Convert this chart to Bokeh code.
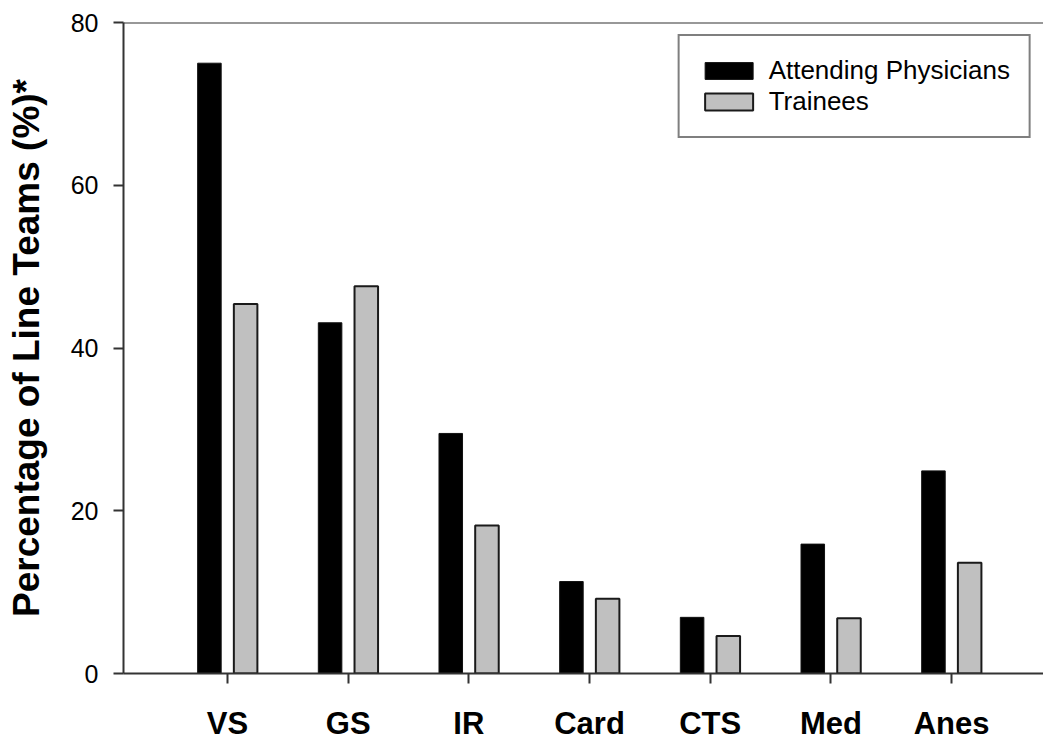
from bokeh.plotting import figure
from bokeh.models import ColumnDataSource, Range1d, FixedTicker, Span, Legend, LegendItem
from bokeh.transform import dodge
from bokeh.embed import file_html
from bokeh.resources import INLINE

categories = ["VS", "GS", "IR", "Card", "CTS", "Med", "Anes"]
attending = [75.0, 43.1, 29.5, 11.3, 6.9, 15.9, 24.9]
trainees = [45.4, 47.6, 18.2, 9.2, 4.6, 6.8, 13.6]
y_ticks = [0, 20, 40, 60, 80]

idx = list(range(len(categories)))
source = ColumnDataSource(data=dict(x=idx, cat=categories, attending=attending, trainees=trainees))

p = figure(width=1043, height=749, output_backend="svg", toolbar_location=None,
           x_range=Range1d(-0.862, len(categories) - 0.238), y_range=Range1d(0, 80),
           min_border_left=123, min_border_right=0, min_border_top=22, min_border_bottom=76)
p.outline_line_color = None
p.grid.visible = False
p.background_fill_color = "white"
p.border_fill_color = "white"

r1 = p.vbar(x=dodge("x", -0.15, range=p.x_range), top="attending", width=0.195, source=source,
            fill_color="black", line_color="#111111", line_width=1)
r2 = p.vbar(x=dodge("x", 0.15, range=p.x_range), top="trainees", width=0.195, source=source,
            fill_color="#c0c0c0", line_color="#1a1a1a", line_width=2)

# top frame line
p.add_layout(Span(location=80, dimension="width", line_color="#333333", line_width=2))

# x axis
xa = p.xaxis[0]
xa.ticker = FixedTicker(ticks=idx)
xa.major_label_overrides = {i: c for i, c in zip(idx, categories)}
xa.major_label_text_font = "Liberation Sans"
xa.major_label_text_font_style = "bold"
xa.major_label_text_font_size = "31px"
xa.major_label_text_color = "black"
xa.major_label_standoff = 22
xa.axis_line_color = "#333333"
xa.axis_line_width = 2
xa.major_tick_line_color = "#333333"
xa.major_tick_line_width = 2
xa.major_tick_in = 0
xa.major_tick_out = 10
xa.minor_tick_line_color = None

# y axis
ya = p.yaxis[0]
ya.ticker = FixedTicker(ticks=y_ticks)
ya.major_label_text_font = "Liberation Sans"
ya.major_label_text_font_size = "25px"
ya.major_label_text_color = "black"
ya.major_label_standoff = 15
ya.axis_line_color = "#333333"
ya.axis_line_width = 2
ya.major_tick_line_color = "#333333"
ya.major_tick_line_width = 2
ya.major_tick_in = 0
ya.major_tick_out = 10
ya.minor_tick_line_color = None
ya.axis_label = "Percentage of Line Teams (%)*"
ya.axis_label_text_font = "Liberation Sans"
ya.axis_label_text_font_style = "bold"
ya.axis_label_text_font_size = "37px"
ya.axis_label_text_color = "black"
ya.axis_label_standoff = 21

legend = Legend(items=[LegendItem(label="Attending Physicians", renderers=[r1]),
                       LegendItem(label="Trainees", renderers=[r2])],
                location="top_right", margin=12, padding=19, spacing=0,
                glyph_width=60, glyph_height=21, label_height=21, label_standoff=10,
                label_text_font="Liberation Sans", label_text_font_size="26px",
                label_text_color="black",
                border_line_color="black", border_line_width=2,
                background_fill_color="white", background_fill_alpha=1)
p.add_layout(legend)

open("out.html", "w").write(file_html(p, INLINE))
